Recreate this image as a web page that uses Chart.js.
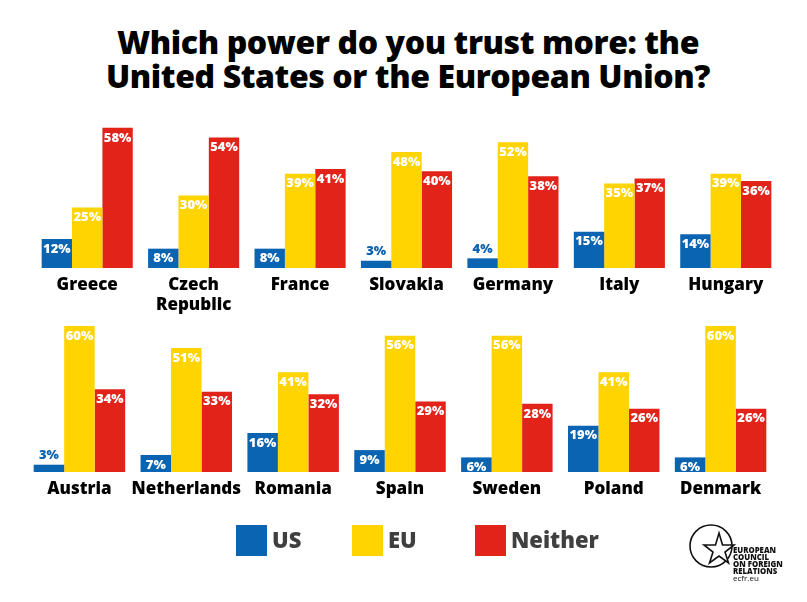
<!DOCTYPE html>
<html>
<head>
<meta charset="utf-8">
<script src="https://cdn.jsdelivr.net/npm/chart.js@4"></script>
<style>
  body { margin: 0; background: #fff; }
  #wrap { position: relative; width: 807px; height: 602px; overflow: hidden; font-family: "Open Sans", sans-serif; }
  #title { position: absolute; left: 0; top: 25px; width: 816px; text-align: center; font-weight: 800; font-size: 32px; line-height: 34px; color: #000; letter-spacing: -0.4px; }
  .row { position: absolute; left: 0; width: 807px; height: 230px; }
  #legend { position: absolute; left: 236px; top: 525px; height: 31px; }
  .lg { position: absolute; top: 0; height: 31px; white-space: nowrap; }
  .lg i { position: absolute; left: 0; top: 0; width: 31px; height: 31px; }
  .lg span { position: absolute; left: 36px; top: -1px; font-size: 22px; font-weight: 800; color: #3f3f3f; }
  #logo { position: absolute; left: 686px; top: 520px; }
</style>
</head>
<body>
<div id="wrap">
  <div id="title">Which power do you trust more: the<br>United States or the European Union?</div>
  <canvas id="row1" class="row" style="top:100px"></canvas>
  <canvas id="row2" class="row" style="top:310px"></canvas>
  <div id="legend"></div>
  <svg id="logo" width="121" height="70" viewBox="0 0 121 70">
    <circle cx="25" cy="26" r="21" fill="none" stroke="#111" stroke-width="1.6"/>
    <polygon points="33,13 36.5,25 48,25 39,32 42.5,43 33,36 23.5,43 27,32 18,25 29.5,25" fill="#fff" stroke="#111" stroke-width="1.6" stroke-linejoin="miter"/>
    <text x="47" y="33" font-family="Open Sans" font-weight="800" font-size="7.8" fill="#111">EUROPEAN</text>
    <text x="47" y="40" font-family="Open Sans" font-weight="800" font-size="7.8" fill="#111">COUNCIL</text>
    <text x="47" y="47" font-family="Open Sans" font-weight="800" font-size="7.8" fill="#111">ON FOREIGN</text>
    <text x="47" y="54" font-family="Open Sans" font-weight="800" font-size="7.8" fill="#111">RELATIONS</text>
    <text x="47" y="61" font-family="Open Sans" font-size="8" fill="#111">ecfr.eu</text>
  </svg>
</div>
<script>
const seriesNames = ['US', 'EU', 'Neither'];
const colors = ['#0b64b2', '#ffd400', '#e2231a'];

const countries1 = ['Greece', ['Czech', 'Republic'], 'France', 'Slovakia', 'Germany', 'Italy', 'Hungary'];
const us1 = [12, 8, 8, 3, 4, 15, 14];
const eu1 = [25, 30, 39, 48, 52, 35, 39];
const neither1 = [58, 54, 41, 40, 38, 37, 36];

const countries2 = ['Austria', 'Netherlands', 'Romania', 'Spain', 'Sweden', 'Poland', 'Denmark'];
const us2 = [3, 7, 16, 9, 6, 19, 6];
const eu2 = [60, 51, 41, 56, 56, 41, 60];
const neither2 = [34, 33, 32, 29, 28, 26, 26];

// value labels at the top of each bar; very short bars get theirs above in the bar colour
const valueLabels = {
    id: 'valueLabels',
    afterDatasetsDraw(chart) {
        const ctx = chart.ctx;
        ctx.save();
        ctx.font = '800 13px "Open Sans"';
        ctx.textAlign = 'center';
        ctx.textBaseline = 'middle';
        chart.data.datasets.forEach((ds, i) => {
            chart.getDatasetMeta(i).data.forEach((bar, j) => {
                const v = ds.data[j];
                if (v < 5) {
                    ctx.fillStyle = colors[i];
                    ctx.fillText(v + '%', bar.x, bar.y - 9);
                } else {
                    ctx.fillStyle = '#fff';
                    ctx.fillText(v + '%', bar.x, bar.y + 10);
                }
            });
        });
        ctx.restore();
    }
};

function makeRow(id, labels, values, pad) {
    const canvas = document.getElementById(id);
    canvas.width = 807;
    canvas.height = 230;
    new Chart(canvas, {
        type: 'bar',
        data: {
            labels: labels,
            datasets: values.map((d, i) => ({
                label: seriesNames[i],
                data: d,
                backgroundColor: colors[i],
                borderWidth: 0
            }))
        },
        options: {
            responsive: false,
            animation: false,
            devicePixelRatio: 1,
            categoryPercentage: 0.856,
            barPercentage: 1,
            layout: { padding: pad },
            plugins: { legend: { display: false }, tooltip: { enabled: false } },
            scales: {
                x: {
                    grid: { display: false, drawTicks: false },
                    border: { display: false },
                    afterFit: s => { s.height = 50; },
                    ticks: {
                        color: '#000',
                        padding: 7,
                        autoSkip: false,
                        maxRotation: 0,
                        minRotation: 0,
                        font: { family: 'Open Sans', weight: '800', size: 17, lineHeight: 1.2 }
                    }
                },
                y: { display: false, min: 0, max: 60 }
            }
        },
        plugins: [valueLabels]
    });
}

makeRow('row1', countries1, [us1, eu1, neither1], { left: 34, right: 28, top: 23, bottom: 12 });
makeRow('row2', countries2, [us2, eu2, neither2], { left: 26, right: 33, top: 16, bottom: 18 });

const legendX = [0, 116, 239];
document.getElementById('legend').innerHTML = seriesNames.map((n, i) => `
    <div class="lg" style="left:${legendX[i]}px"><i style="background:${colors[i]}"></i><span>${n}</span></div>
`).join('');
</script>
</body>
</html>
